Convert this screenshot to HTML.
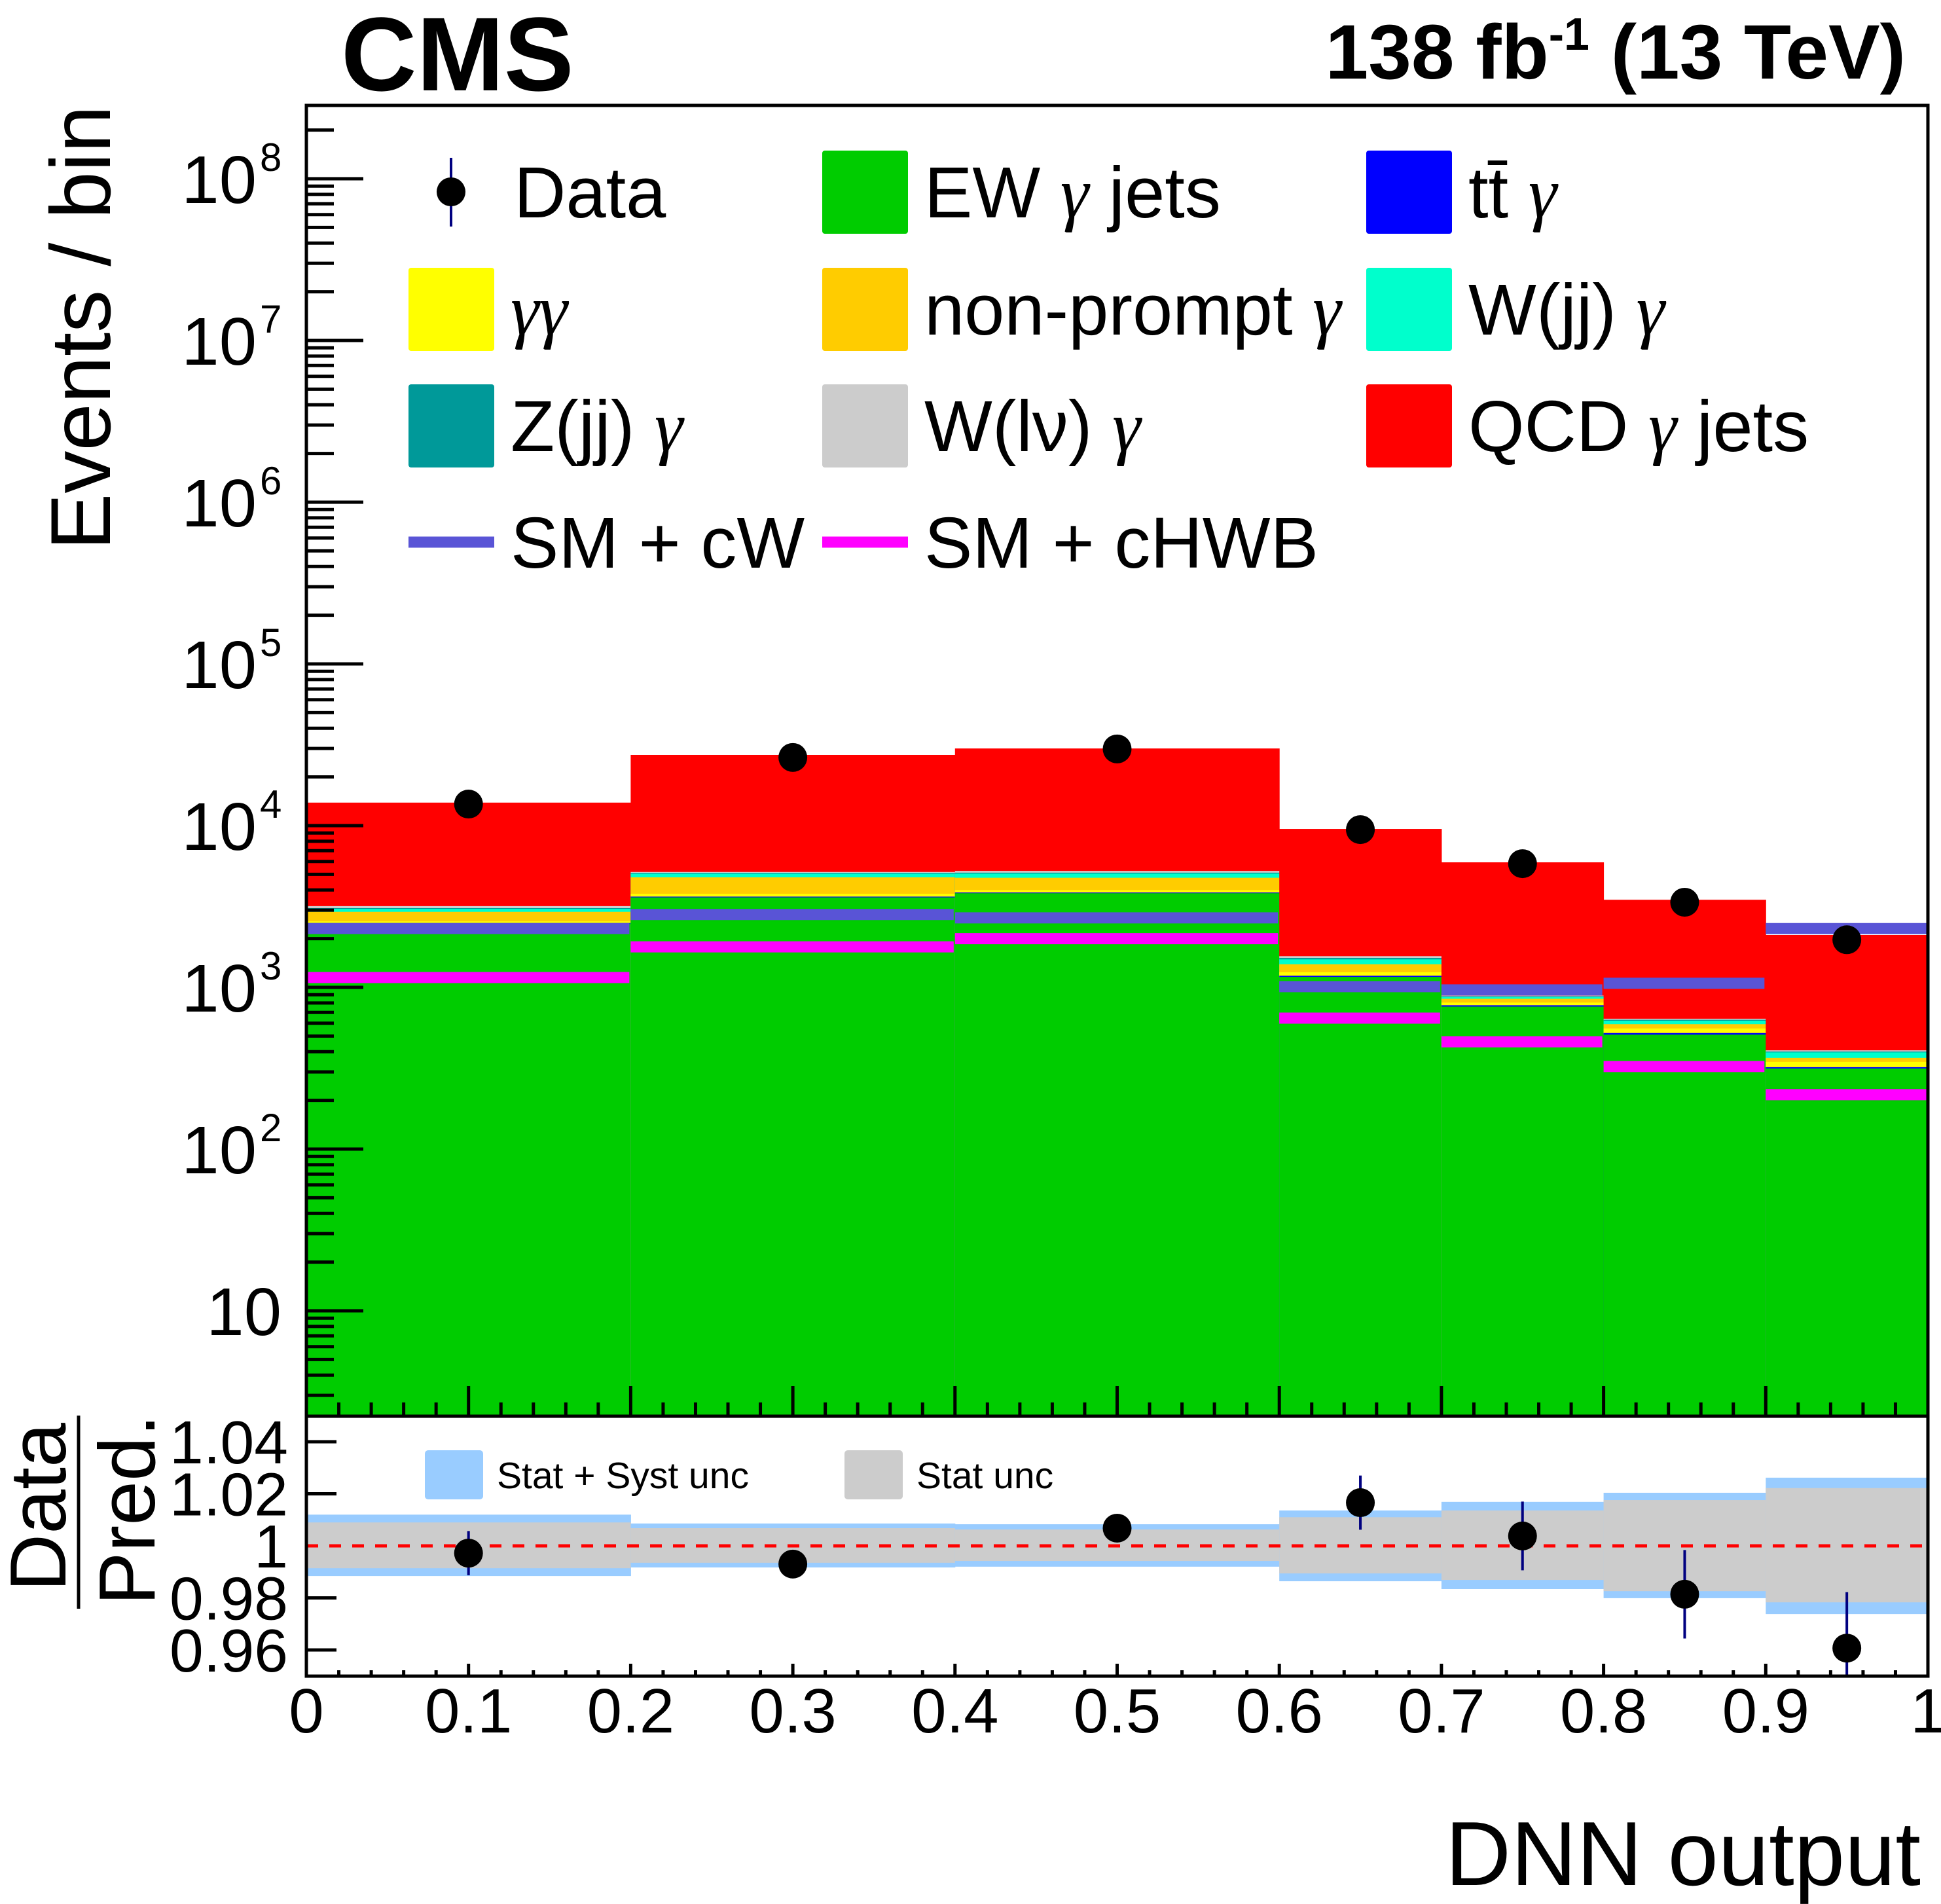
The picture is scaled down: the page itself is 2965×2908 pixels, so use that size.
<!DOCTYPE html>
<html><head><meta charset="utf-8"><style>
html,body{margin:0;padding:0;background:#fff;}
svg{display:block;}
text{font-family:"Liberation Sans",sans-serif;fill:#000;}
.g{font-family:"Liberation Serif",serif;}
</style></head><body>
<svg id="c" width="2965" height="2908" viewBox="0 0 2965 2908" xmlns="http://www.w3.org/2000/svg">
<rect x="0" y="0" width="2965" height="2908" fill="#fff"/>
<g id="upper"></g>
<g id="lower"></g>
<text x="521" y="138" font-size="160" font-weight="bold">CMS</text>
<text x="2911" y="120" font-size="118" font-weight="bold" text-anchor="end">138 fb<tspan font-size="70" dy="-44">-1</tspan><tspan dy="44"> (13 TeV)</tspan></text>
<text transform="translate(168,161) rotate(-90)" font-size="130" text-anchor="end">Events / bin</text>
<text x="2934" y="2879" font-size="139" text-anchor="end">DNN output</text>
<text transform="translate(100,2302) rotate(-90)" font-size="122" text-anchor="middle">Data</text>
<line x1="120" y1="2162" x2="120" y2="2457" stroke="#000" stroke-width="5"/>
<text transform="translate(236,2306) rotate(-90)" font-size="122" text-anchor="middle">Pred.</text>
<g id="legend"></g>
</svg>
<script>
// ---- data ----
const binEdges = [0, 0.2, 0.4, 0.6, 0.7, 0.8, 0.9, 1.0];
const ewGammaJets = [2480, 3600, 3820, 1160, 760, 510, 315];
const ttGamma     = [20, 40, 40, 20, 15, 12, 6];
const gammaGamma  = [60, 150, 130, 60, 30, 35, 25];
const nonPrompt   = [370, 1000, 770, 150, 45, 35, 20];
const wjjGamma    = [130, 250, 290, 100, 20, 30, 30];
const zjjGamma    = [30, 60, 70, 30, 10, 8, 5];
const wlvGamma    = [90, 70, 130, 40, 10, 10, 7];
const qcdGammaJets= [10700, 22200, 24750, 7980, 5040, 2840, 1700];
const smCW        = [2310, 2820, 2690, 1010, 964, 1060, 2310];
const smCHWB      = [1150, 1780, 2000, 645, 461, 324, 217];
const dataX       = [0.1, 0.3, 0.5, 0.65, 0.75, 0.85, 0.95];
const dataY       = [13600, 26400, 29800, 9450, 5820, 3360, 1970];
const ratioVals   = [0.9972, 0.993, 1.0068, 1.0166, 1.0038, 0.9814, 0.9607];
const ratioErr    = [0.0085, 0.002, 0.002, 0.0104, 0.0132, 0.017, 0.0215];
const statSystUp  = [1.012, 1.0086, 1.0083, 1.0136, 1.0169, 1.0204, 1.0262];
const statSystDn  = [0.9884, 0.9917, 0.992, 0.9864, 0.9834, 0.9799, 0.9738];
const statUp      = [1.009, 1.0068, 1.0063, 1.011, 1.0136, 1.0176, 1.0222];
const statDn      = [0.9914, 0.9935, 0.9942, 0.9894, 0.9869, 0.9826, 0.9783];
const xTickLabels = ["0","0.1","0.2","0.3","0.4","0.5","0.6","0.7","0.8","0.9","1"];
const yDecades    = [1,2,3,4,5,6,7,8];
const ratioTicks  = [1.04, 1.02, 0.98, 0.96];
const ratioTickLabels = ["1.04","1.02","0.98","0.96"];

// ---- geometry ----
const NS = "http://www.w3.org/2000/svg";
const X0 = 468, X1 = 2945, UT = 161, UB = 2163, LB = 2560;
const xS = v => X0 + v * (X1 - X0);
const yU = v => 1261 - (Math.log10(v) - 4) * 247;
const yR = r => 2361 - (r - 1) * 3975;
function mk(parent, tag, attrs) {
  const e = document.createElementNS(NS, tag);
  for (const k in attrs) e.setAttribute(k, attrs[k]);
  parent.appendChild(e);
  return e;
}
const up = document.getElementById('upper');
const lo = document.getElementById('lower');
const lg = document.getElementById('legend');

// stacked histogram
const layers = [
  [ewGammaJets, '#00cc00', 'ew-gamma-jets'],
  [ttGamma, '#0000ff', 'ttbar-gamma'],
  [gammaGamma, '#ffff00', 'gamma-gamma'],
  [nonPrompt, '#ffcc00', 'non-prompt-gamma'],
  [wjjGamma, '#00ffcc', 'wjj-gamma'],
  [zjjGamma, '#009999', 'zjj-gamma'],
  [wlvGamma, '#cccccc', 'wlv-gamma'],
  [qcdGammaJets, '#ff0000', 'qcd-gamma-jets']
];
for (let b = 0; b < binEdges.length - 1; b++) {
  let cum = 0;
  const tops = layers.map(l => (cum += l[0][b]));
  for (let i = layers.length - 1; i >= 0; i--) {
    const yt = Math.max(yU(tops[i]), UT);
    const r = mk(up, 'rect', {x: xS(binEdges[b]), y: yt, width: xS(binEdges[b+1]) - xS(binEdges[b]) + 0.5, height: UB - yt, fill: layers[i][1]});
    
    
  }
}
// EFT lines
[[smCW, '#5954d6', 'sm-cw-line'], [smCHWB, '#ff00ff', 'sm-chwb-line']].forEach(s => {
  for (let b = 0; b < binEdges.length - 1; b++) {
    const l = mk(up, 'line', {x1: xS(binEdges[b]), x2: xS(binEdges[b+1]) - 2, y1: yU(s[0][b]), y2: yU(s[0][b]), stroke: s[1], 'stroke-width': 17});
    
    
  }
});
// data points
for (let i = 0; i < dataX.length; i++) {
  const e = Math.sqrt(dataY[i]) * 3;
  const el = mk(up, 'line', {x1: xS(dataX[i]), x2: xS(dataX[i]), y1: yU(dataY[i] + e), y2: yU(dataY[i] - e), stroke: '#000080', 'stroke-width': 4});
  
  
  const c = mk(up, 'circle', {cx: xS(dataX[i]), cy: yU(dataY[i]), r: 22, fill: '#000'});
  
  
}
// upper frame & ticks
const f1 = mk(up, 'rect', {x: X0, y: UT, width: X1 - X0, height: UB - UT, fill: 'none', stroke: '#000', 'stroke-width': 5});


for (let d = 0; d <= 8; d++) {
  for (let m = 1; m <= 9; m++) {
    const v = m * Math.pow(10, d);
    const y = yU(v);
    if (y < UT || y > UB) continue;
    const t = mk(up, 'line', {x1: X0, x2: X0 + (m === 1 ? 87 : 42), y1: y, y2: y, stroke: '#000', 'stroke-width': 5});
    
    
  }
}
yDecades.forEach(d => {
  const y = yU(Math.pow(10, d));
  const t = mk(up, 'text', {x: d === 1 ? 430 : 392, y: y + 37, 'font-size': 103, 'text-anchor': 'end'});
  t.textContent = '10';
  
  
  if (d > 1) {
    const s = mk(up, 'text', {x: 397, y: y - 12, 'font-size': 60});
    s.textContent = String(d);
    
    
  }
});
for (let i = 1; i < 50; i++) {
  const x = xS(i / 50);
  const maj = i % 5 === 0;
  const t = mk(up, 'line', {x1: x, x2: x, y1: UB, y2: UB - (maj ? 46 : 21), stroke: '#000', 'stroke-width': 5});
  
  
  const t2 = mk(lo, 'line', {x1: x, x2: x, y1: LB, y2: LB - (maj ? 19 : 9), stroke: '#000', 'stroke-width': 5});
  
  
}

// ratio pad bands
for (let b = 0; b < binEdges.length - 1; b++) {
  const x = xS(binEdges[b]), w = xS(binEdges[b+1]) - x + 0.5;
  const r1 = mk(lo, 'rect', {x: x, y: yR(statSystUp[b]), width: w, height: yR(statSystDn[b]) - yR(statSystUp[b]), fill: '#99ccff'});
  
  
  const r2 = mk(lo, 'rect', {x: x, y: yR(statUp[b]), width: w, height: yR(statDn[b]) - yR(statUp[b]), fill: '#cccccc'});
  
  
}
const ref = mk(lo, 'line', {x1: X0, x2: X1, y1: yR(1), y2: yR(1), stroke: '#ff0000', 'stroke-width': 5, 'stroke-dasharray': '18 17'});


for (let i = 0; i < dataX.length; i++) {
  const el = mk(lo, 'line', {x1: xS(dataX[i]), x2: xS(dataX[i]), y1: Math.max(yR(ratioVals[i] + ratioErr[i]), UB), y2: Math.min(yR(ratioVals[i] - ratioErr[i]), LB), stroke: '#000080', 'stroke-width': 4});
  
  
  const c = mk(lo, 'circle', {cx: xS(dataX[i]), cy: yR(ratioVals[i]), r: 22, fill: '#000'});
  
  
}
const f2 = mk(lo, 'rect', {x: X0, y: UB, width: X1 - X0, height: LB - UB, fill: 'none', stroke: '#000', 'stroke-width': 5});


ratioTicks.forEach((r, i) => {
  const t = mk(lo, 'line', {x1: X0, x2: X0 + 46, y1: yR(r), y2: yR(r), stroke: '#000', 'stroke-width': 5});
  
  
  const l = mk(lo, 'text', {x: 440, y: yR(r) + 33, 'font-size': 93, 'text-anchor': 'end'});
  l.textContent = ratioTickLabels[i];
  
  
});
const one = mk(lo, 'text', {x: 440, y: yR(1) + 33, 'font-size': 93, 'text-anchor': 'end'});
one.textContent = '1';


xTickLabels.forEach((s, i) => {
  const t = mk(lo, 'text', {x: xS(i / 10), y: 2646, 'font-size': 96, 'text-anchor': 'middle'});
  t.textContent = s;
  
  
});
// ratio legend
[[649, '#99ccff', 'Stat + Syst unc', 'legend-stat-syst'], [1290, '#cccccc', 'Stat unc', 'legend-stat']].forEach(e => {
  const r = mk(lo, 'rect', {x: e[0], y: 2215, width: 89, height: 75, rx: 5, fill: e[1]});
  
  
  const t = mk(lo, 'text', {x: e[0] + 110, y: 2273, 'font-size': 57});
  t.textContent = e[2];
  
  
});

// main legend
const rowC = [293, 472, 650, 828];
const colBox = [624, 1256, 2087];
const entries = [
  [0, 1, '#00cc00', ['EW ', 'γ', ' jets'], 'legend-ew-gamma-jets'],
  [0, 2, '#0000ff', ['tt̄ ', 'γ', ''], 'legend-ttbar-gamma'],
  [1, 0, '#ffff00', ['', 'γγ', ''], 'legend-gamma-gamma'],
  [1, 1, '#ffcc00', ['non-prompt ', 'γ', ''], 'legend-non-prompt'],
  [1, 2, '#00ffcc', ['W(jj) ', 'γ', ''], 'legend-wjj-gamma'],
  [2, 0, '#009999', ['Z(jj) ', 'γ', ''], 'legend-zjj-gamma'],
  [2, 1, '#cccccc', ['W(lν) ', 'γ', ''], 'legend-wlv-gamma'],
  [2, 2, '#ff0000', ['QCD ', 'γ', ' jets'], 'legend-qcd-gamma-jets']
];
function legText(x, y, parts, name) {
  const t = mk(lg, 'text', {x: x, y: y, 'font-size': 110});
  
  
  const a = document.createElementNS(NS, 'tspan'); a.textContent = parts[0]; t.appendChild(a);
  const g = document.createElementNS(NS, 'tspan'); g.setAttribute('class', 'g'); g.setAttribute('font-style', 'italic'); g.textContent = parts[1]; t.appendChild(g);
  const c = document.createElementNS(NS, 'tspan'); c.textContent = parts[2]; t.appendChild(c);
}
entries.forEach(e => {
  const x = colBox[e[1]], cy = rowC[e[0]];
  const r = mk(lg, 'rect', {x: x, y: cy - 63, width: 131, height: 127, rx: 4, fill: e[2]});
  
  
  legText(x + 156, cy + 39, e[3], e[4] + '-label');
});
const dl = mk(lg, 'line', {x1: 689, x2: 689, y1: 241, y2: 346, stroke: '#000080', 'stroke-width': 4});


const dc = mk(lg, 'circle', {cx: 689, cy: 293, r: 22, fill: '#000'});


const dt = mk(lg, 'text', {x: 785, y: 332, 'font-size': 110});
dt.textContent = 'Data';


[[624, '#5954d6', 'SM + cW', 'legend-sm-cw'], [1256, '#ff00ff', 'SM + cHWB', 'legend-sm-chwb']].forEach(e => {
  const l = mk(lg, 'line', {x1: e[0], x2: e[0] + 131, y1: 828, y2: 828, stroke: e[1], 'stroke-width': 17});
  
  
  const t = mk(lg, 'text', {x: e[0] + 156, y: 867, 'font-size': 110});
  t.textContent = e[2];
  
  
});
</script>
</body></html>
